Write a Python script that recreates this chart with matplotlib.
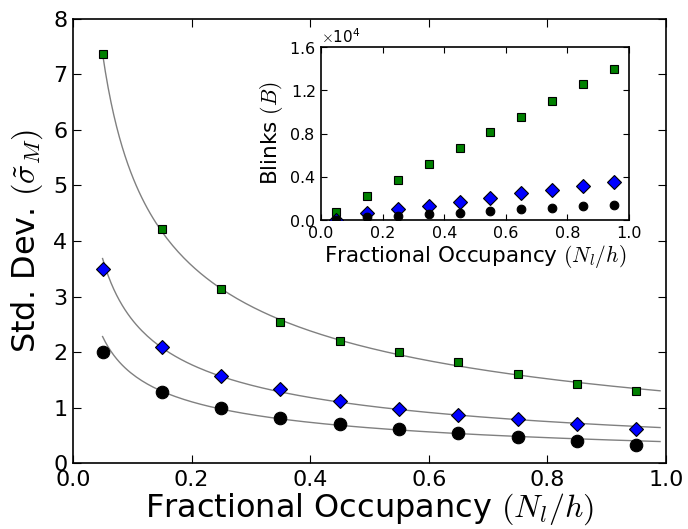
import numpy as np
import matplotlib
matplotlib.use("Agg")
import matplotlib.pyplot as plt

# ---- data ----
occupancy = [0.05, 0.15, 0.25, 0.35, 0.45, 0.55, 0.65, 0.75, 0.85, 0.95]

std_green = [7.36, 4.22, 3.14, 2.55, 2.21, 2.01, 1.83, 1.61, 1.43, 1.31]
std_blue = [3.50, 2.10, 1.57, 1.34, 1.13, 0.98, 0.87, 0.79, 0.71, 0.62]
std_black = [2.01, 1.29, 0.99, 0.81, 0.70, 0.61, 0.54, 0.47, 0.40, 0.33]

blinks_green = [770, 2250, 3700, 5170, 6650, 8100, 9570, 11050, 12550, 14000]
blinks_blue = [30, 620, 980, 1320, 1690, 2060, 2460, 2800, 3170, 3510]
blinks_black = [20, 250, 370, 550, 680, 800, 980, 1110, 1290, 1420]

# fitted curve parameters: sigma = a * x**(-b) + c
fit_green = (2.13, 0.45, -0.834)
fit_blue = (1.068, 0.45, -0.428)
fit_black = (0.72, 0.43, -0.33)
fit_range = (0.05, 0.99)

main_xticks = [0.0, 0.2, 0.4, 0.6, 0.8, 1.0]
main_yticks = [0, 1, 2, 3, 4, 5, 6, 7, 8]
inset_yticks = [0, 4000, 8000, 12000, 16000]

plt.rcParams.update({
    "font.family": "DejaVu Sans",
    "mathtext.fontset": "cm",
    "xtick.direction": "in",
    "ytick.direction": "in",
    "xtick.top": True,
    "ytick.right": True,
    "xtick.major.size": 6,
    "ytick.major.size": 6,
    "axes.linewidth": 1.2,
})

fig = plt.figure(figsize=(6.88, 5.29), dpi=100)
ax = fig.add_axes([0.106, 0.124, 0.862, 0.841])

xf = np.linspace(fit_range[0], fit_range[1], 200)
for (a, b, c) in (fit_green, fit_blue, fit_black):
    ax.plot(xf, a * xf ** (-b) + c, color="#808080", lw=1.0, zorder=1)

ax.plot(occupancy, std_green, ls="none", marker="s", ms=6.4, mfc="#008000",
        mec="black", mew=0.8, zorder=3)
ax.plot(occupancy, std_blue, ls="none", marker="D", ms=7, mfc="#0000ff",
        mec="black", mew=0.8, zorder=3)
ax.plot(occupancy, std_black, ls="none", marker="o", ms=9, mfc="black",
        mec="black", mew=0.8, zorder=3)

ax.set_xlim(0, 1)
ax.set_ylim(0, 8)
ax.set_xticks(main_xticks)
ax.set_xticklabels(["%.1f" % t for t in main_xticks])
ax.set_yticks(main_yticks)
ax.set_yticklabels([str(t) for t in main_yticks])
ax.tick_params(axis="x", labelsize=16, pad=5)
ax.tick_params(axis="y", labelsize=16, pad=4)
ax.set_xlabel(r"Fractional Occupancy $(N_l/h)$", fontsize=23, labelpad=1)
ax.set_ylabel(r"Std. Dev. $(\tilde{\sigma}_M)$", fontsize=23, labelpad=6)

# ---- inset ----
ins = fig.add_axes([0.4666, 0.584, 0.4477, 0.327])
ins.plot(occupancy, blinks_green, ls="none", marker="s", ms=6.2, mfc="#008000",
         mec="black", mew=0.8, zorder=3)
ins.plot(occupancy, blinks_blue, ls="none", marker="D", ms=7.5, mfc="#0000ff",
         mec="black", mew=0.8, zorder=3)
ins.plot(occupancy, blinks_black, ls="none", marker="o", ms=6.2, mfc="black",
         mec="black", mew=0.8, zorder=3)
ins.set_xlim(0, 1)
ins.set_ylim(0, 16000)
ins.set_xticks(main_xticks)
ins.set_xticklabels(["%.1f" % t for t in main_xticks])
ins.set_yticks(inset_yticks)
ins.ticklabel_format(axis="y", style="sci", scilimits=(0, 0), useMathText=True)
ins.yaxis.get_offset_text().set_fontsize(11)
ins.tick_params(labelsize=11.5, length=4, pad=4)
ins.set_xlabel(r"Fractional Occupancy $(N_l/h)$", fontsize=15.5, labelpad=2)
ins.set_ylabel(r"Blinks $(B)$", fontsize=15.5, labelpad=3)

fig.savefig("out.png", dpi=100)
